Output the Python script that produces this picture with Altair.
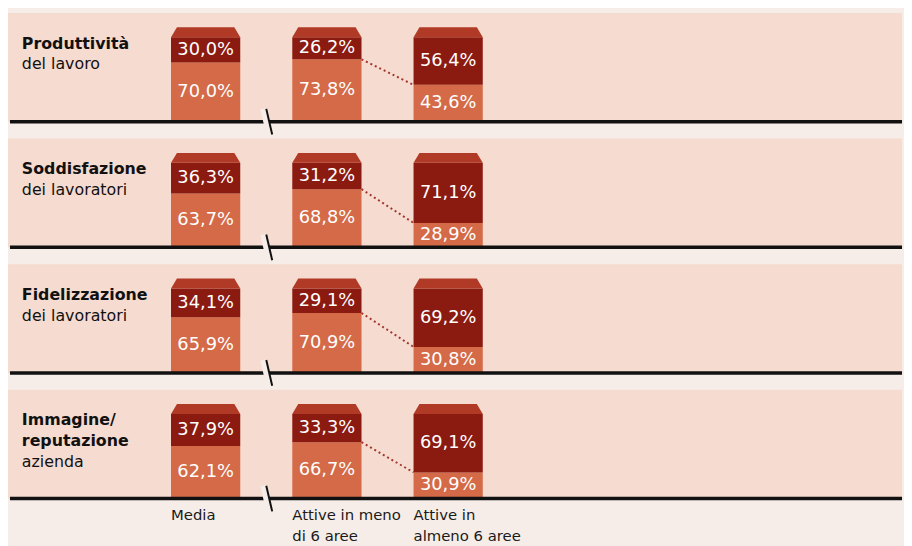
import altair as alt
import pandas as pd

# ---------------- data ----------------
panel_bold = [["Produttività"], ["Soddisfazione"], ["Fidelizzazione"], ["Immagine/", "reputazione"]]
panel_regular = [["del lavoro"], ["dei lavoratori"], ["dei lavoratori"], ["azienda"]]
group_line1 = ["Media", "Attive in meno", "Attive in"]
group_line2 = ["", "di 6 aree", "almeno 6 aree"]
top_share = [
    [30.0, 26.2, 56.4],
    [36.3, 31.2, 71.1],
    [34.1, 29.1, 69.2],
    [37.9, 33.3, 69.1],
]
bottom_share = [
    [70.0, 73.8, 43.6],
    [63.7, 68.8, 28.9],
    [65.9, 70.9, 30.8],
    [62.1, 66.7, 30.9],
]

# ---------------- style ----------------
BG = "#F6EDE8"
BAND = "#F6DBD0"
DARK = "#8B1A10"
ORANGE = "#D46A47"
ROOF = "#B03A26"
DOTS = "#A3352A"
FONT = "DejaVu Sans"
W, H = 904, 110
ROOF_PATH = "M-1,0.143L-0.829,-0.143L0.829,-0.143L1,0.143Z"

xs = alt.Scale(domain=[-1.589, 5.702], nice=False, zero=False)
ys = alt.Scale(domain=[0, 128.65], nice=False, zero=False)


def fmt(v):
    return f"{v:.1f}".replace(".", ",") + "%"


def panel(p, last=False):
    seg = []
    for g in range(3):
        b = bottom_share[p][g]
        t = top_share[p][g]
        seg.append({"g": g, "y0": 0, "y1": b, "mid": b / 2, "label": fmt(b), "part": "bottom"})
        seg.append({"g": g, "y0": b, "y1": 100, "mid": b + (100 - b) / 2, "label": fmt(t), "part": "top"})
    seg = pd.DataFrame(seg)
    roof_df = pd.DataFrame({"g": [0, 1, 2], "full": [100, 100, 100]})
    one = pd.DataFrame({"zero": [0], "brk": [0.5], "s1": [15.2], "s2": [-15.2]})
    conn = pd.DataFrame({"g1": [1], "g2": [2], "b1": [bottom_share[p][1]], "b2": [bottom_share[p][2]]})

    X = alt.X("g:Q", scale=xs, axis=None)

    bars = alt.Chart(seg).mark_bar(width=70).encode(
        x=X,
        y=alt.Y("y0:Q", scale=ys, axis=None),
        y2="y1:Q",
        color=alt.Color("part:N", scale=alt.Scale(domain=["bottom", "top"], range=[ORANGE, DARK]), legend=None),
    )
    roofs = alt.Chart(roof_df).mark_point(
        shape=ROOF_PATH, size=4900, filled=True, opacity=1, color=ROOF, strokeWidth=0, yOffset=-5
    ).encode(x=X, y=alt.Y("full:Q", scale=ys, axis=None))
    nums = alt.Chart(seg).mark_text(
        font=FONT, fontSize=18, color="white", baseline="middle", align="center"
    ).encode(x=X, y=alt.Y("mid:Q", scale=ys, axis=None), text="label:N")
    dots = alt.Chart(conn).mark_rule(
        strokeDash=[2, 3], strokeWidth=2, color=DOTS, xOffset=35, x2Offset=-35
    ).encode(
        x=alt.X("g1:Q", scale=xs, axis=None), x2="g2:Q",
        y=alt.Y("b1:Q", scale=ys, axis=None), y2="b2:Q",
    )
    base = alt.Chart(one).mark_rule(strokeWidth=3.5, color="#111111").encode(
        x=alt.value(2), x2=alt.value(W), y=alt.Y("zero:Q", scale=ys, axis=None)
    )
    gap = alt.Chart(one).mark_rule(strokeWidth=6, color=BG, xOffset=-3, x2Offset=3).encode(
        x=alt.X("brk:Q", scale=xs, axis=None), x2="brk:Q",
        y=alt.Y("s1:Q", scale=ys, axis=None), y2="s2:Q",
    )
    slash = alt.Chart(one).mark_rule(strokeWidth=2, color="#111111", xOffset=0, x2Offset=6).encode(
        x=alt.X("brk:Q", scale=xs, axis=None), x2="brk:Q",
        y=alt.Y("s1:Q", scale=ys, axis=None), y2="s2:Q",
    )
    layers = [bars, roofs, nums, dots, base, gap, slash]

    lines = [(t, "bold") for t in panel_bold[p]] + [(t, "normal") for t in panel_regular[p]]
    for i, (t, wt) in enumerate(lines):
        layers.append(
            alt.Chart(one).mark_text(
                text=t, font=FONT, fontWeight=wt, fontSize=16,
                align="left", baseline="alphabetic", color="#111111"
            ).encode(x=alt.value(14), y=alt.value(36 + 21 * i))
        )

    if last:
        gl = pd.DataFrame({"g": [0, 1, 2], "l1": group_line1, "l2": group_line2})
        for i, col in enumerate(["l1", "l2"]):
            layers.append(
                alt.Chart(gl).mark_text(
                    font=FONT, fontSize=15, align="left", baseline="alphabetic",
                    color="#1a1a1a", xOffset=-35
                ).encode(x=X, y=alt.value(H + 22 + 21 * i), text=f"{col}:N")
            )
    return alt.layer(*layers).properties(width=W, height=H)


chart = alt.vconcat(
    *[panel(p, last=(p == 3)) for p in range(4)], spacing=17, bounds="flush"
).properties(
    padding={"left": 0, "top": 2, "right": 0, "bottom": 0}, background=BG
).configure_view(fill=BAND, stroke=None)

chart.save("out.html", embed_options={"renderer": "svg", "actions": False})
